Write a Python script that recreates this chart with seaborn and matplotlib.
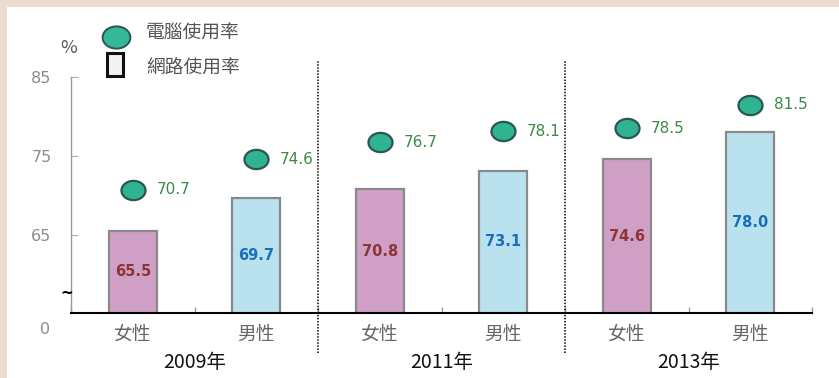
import numpy as np
import pandas as pd
import matplotlib
matplotlib.use("Agg")
import matplotlib.pyplot as plt
from matplotlib.patches import Rectangle
from matplotlib.path import Path
import seaborn as sns

# ---- data ----
years = ["2009年", "2011年", "2013年"]
genders = ["女性", "男性", "女性", "男性", "女性", "男性"]
internet_rate = [65.5, 69.7, 70.8, 73.1, 74.6, 78.0]   # 網路使用率 (bars)
computer_rate = [70.7, 74.6, 76.7, 78.1, 78.5, 81.5]   # 電腦使用率 (markers)
ytick_values = [65, 75, 85]

# ---- styling ----
sns.set_theme(style="white")
plt.rcParams["font.family"] = ["Noto Sans CJK TC", "DejaVu Sans"]

W, H = 839, 378
fig = plt.figure(figsize=(W / 100, H / 100), dpi=100)
fig.patch.set_facecolor("#ecdcd0")
fig.patches.append(Rectangle((7 / W, 0), 1, 1 - 7 / H, transform=fig.transFigure,
                             facecolor="white", edgecolor="none", zorder=-10))

y_low, y_high = 55.1, 87.15
ax = fig.add_axes([71 / W, (H - 313) / H, 741 / W, 253 / H])
ax.set_facecolor("none")

df = pd.DataFrame({"pos": np.arange(len(genders)), "gender": genders,
                   "internet": internet_rate, "computer": computer_rate})

pal = {"女性": "#d09fc6", "男性": "#b9e1ee"}
sns.barplot(data=df, x="pos", y="internet", hue="gender", palette=pal, dodge=False,
            width=0.39, edgecolor="#8a8a8a", linewidth=1.6, legend=False, ax=ax,
            saturation=1, zorder=2)

# elliptical marker for computer usage
theta = np.linspace(0, 2 * np.pi, 60)
ellipse = Path(np.column_stack([np.cos(theta), 0.8 * np.sin(theta)]), closed=True)
sns.scatterplot(data=df, x="pos", y="computer", marker=ellipse, s=300,
                color="#2fb48f", edgecolor="#2b5556", linewidth=1.6, ax=ax,
                zorder=4, legend=False)

for i, row in df.iterrows():
    ax.annotate(f"{row.computer:.1f}", (row.pos, row.computer), xytext=(17, 0),
                textcoords="offset points", ha="left", va="center",
                color="#3a8a45", fontsize=11, family="DejaVu Sans", zorder=5)
    mid = (y_low + row.internet) / 2
    ax.text(row.pos, mid, f"{row.internet:.1f}", ha="center", va="center",
            fontsize=10.5, fontweight="bold", family="DejaVu Sans",
            color="#8b3535" if row.gender == "女性" else "#1a6fbd", zorder=5)

ax.set_xlim(-0.5, 5.5)
ax.set_ylim(y_low, y_high)

# axes and ticks
for s in ["top", "right"]:
    ax.spines[s].set_visible(False)
ax.spines["left"].set_color("#9a9a9a")
ax.spines["left"].set_linewidth(1.0)
ax.spines["left"].set_bounds(y_low, 85)
ax.spines["bottom"].set_color("black")
ax.spines["bottom"].set_linewidth(1.5)
ax.spines["bottom"].set_zorder(3)

ax.set_yticks(ytick_values)
ax.set_yticklabels([str(v) for v in ytick_values], family="DejaVu Sans")
ax.tick_params(axis="y", direction="in", length=5, width=0.8, color="#b0b0b0",
               labelcolor="#8c8c8c", labelsize=11.5, pad=14, left=True)

ax.set_xticks(range(len(genders)))
ax.set_xticklabels(genders)
ax.set_xticks(np.arange(-0.5, 6.0, 1.0), minor=True)
ax.tick_params(axis="x", which="major", length=0, labelsize=13.5, labelcolor="#666666", pad=8)
ax.tick_params(axis="x", which="minor", direction="in", length=4, width=1,
               color="#999999", bottom=True)
ax.set_xlabel("")
ax.set_ylabel("")

# dotted separators between years
for xs in [1.5, 3.5]:
    ax.axvline(xs, ymin=-0.158, ymax=1.0, color="black", linestyle=(0, (1, 1)),
               linewidth=1.1, clip_on=False, zorder=3)

# year labels
trans = matplotlib.transforms.blended_transform_factory(ax.transData, ax.transAxes)
for k, yr in enumerate(years):
    ax.text(2 * k + 0.5, -0.197, yr, transform=trans, ha="center", va="center",
            fontsize=14, color="#111111")

# axis annotations
fig.text(45 / W, 1 - 330 / H, "0", ha="center", va="center", fontsize=11.5,
         color="#8c8c8c", family="DejaVu Sans")
fig.text(69 / W, 1 - 48 / H, "%", ha="center", va="center", fontsize=13,
         color="#555555")
fig.text(67 / W, 1 - 293 / H, "~", ha="center", va="center", fontsize=11,
         fontweight="bold", color="black", family="DejaVu Sans")

# legend
lx = fig.add_axes([0, 0, 1, 1], facecolor="none")
lx.set_xlim(0, W)
lx.set_ylim(H, 0)
lx.axis("off")
lx.scatter([116], [37], marker=ellipse, s=400, color="#34b898", edgecolor="#2b5556",
           linewidth=1.4)
lx.add_patch(Rectangle((107, 53), 16, 23, facecolor="#f2f2f2", edgecolor="#111111",
                       linewidth=2.2))
lx.text(146, 33, "電腦使用率", ha="left", va="center", fontsize=13.5, color="#555555")
lx.text(146, 68, "網路使用率", ha="left", va="center", fontsize=13.5, color="#555555")

fig.savefig("out.png", dpi=100)
